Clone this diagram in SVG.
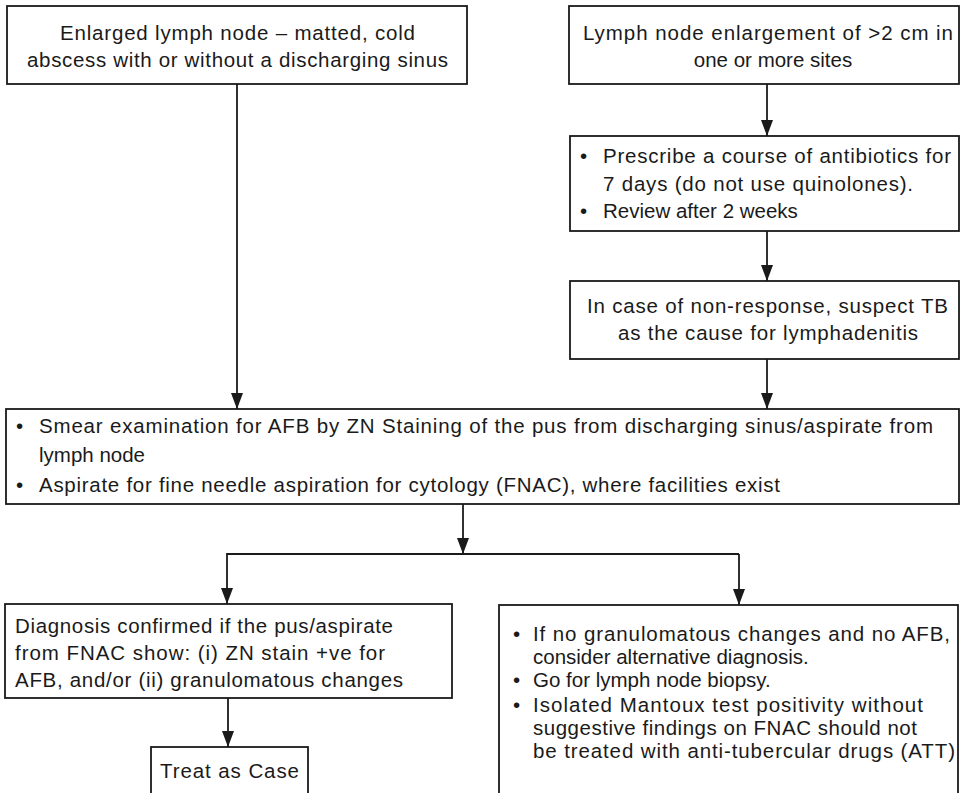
<svg xmlns="http://www.w3.org/2000/svg" width="961" height="793" viewBox="0 0 961 793">
<defs>
<marker id="arr" viewBox="0 0 16 12" refX="16" refY="6" markerWidth="16" markerHeight="12" markerUnits="userSpaceOnUse" orient="auto">
<path d="M0,0 L16,6 L0,12 Z" fill="#1a1a1a"/>
</marker>
</defs>
<style>
.box{fill:#fff;stroke:#1a1a1a;stroke-width:1.8}
.t{font-family:"Liberation Sans",Arial,sans-serif;font-size:20.5px;fill:#1a1a1a}
.c{text-anchor:middle}
.ln{fill:none;stroke:#1a1a1a;stroke-width:1.8}
</style>
<rect width="961" height="793" fill="#fff"/>
<g id="n1">
<rect class="box" x="7" y="6" width="460" height="78"/>
<text class="t" x="60" y="40" textLength="355" lengthAdjust="spacing">Enlarged lymph node – matted, cold</text>
<text class="t" x="27" y="67" textLength="421" lengthAdjust="spacing">abscess with or without a discharging sinus</text>
</g>
<g id="n2">
<rect class="box" x="569" y="6" width="390" height="78"/>
<text class="t" x="583" y="40" textLength="370" lengthAdjust="spacing">Lymph node enlargement of &gt;2 cm in</text>
<text class="t c" x="773" y="67">one or more sites</text>
</g>
<g id="n3">
<rect class="box" x="570" y="136" width="389" height="95"/>
<text class="t" x="580" y="163">•</text>
<text class="t" x="603" y="163" textLength="348" lengthAdjust="spacing">Prescribe a course of antibiotics for</text>
<text class="t" x="603" y="191" textLength="310" lengthAdjust="spacing">7 days (do not use quinolones).</text>
<text class="t" x="580" y="218">•</text>
<text class="t" x="603" y="218">Review after 2 weeks</text>
</g>
<g id="n4">
<rect class="box" x="570" y="281" width="389" height="78"/>
<text class="t" x="587" y="313" textLength="361" lengthAdjust="spacing">In case of non-response, suspect TB</text>
<text class="t" x="618" y="340" textLength="300" lengthAdjust="spacing">as the cause for lymphadenitis</text>
</g>
<g id="n5">
<rect class="box" x="6" y="409" width="953" height="95"/>
<text class="t" x="16" y="433">•</text>
<text class="t" x="39" y="433" textLength="894" lengthAdjust="spacing">Smear examination for AFB by ZN Staining of the pus from discharging sinus/aspirate from</text>
<text class="t" x="39" y="462">lymph node</text>
<text class="t" x="16" y="492">•</text>
<text class="t" x="39" y="492" textLength="741" lengthAdjust="spacing">Aspirate for fine needle aspiration for cytology (FNAC), where facilities exist</text>
</g>
<g id="n6">
<rect class="box" x="5" y="604" width="447" height="94"/>
<text class="t" x="15" y="633" textLength="378" lengthAdjust="spacing">Diagnosis confirmed if the pus/aspirate</text>
<text class="t" x="15" y="660" textLength="370" lengthAdjust="spacing">from FNAC show: (i) ZN stain +ve for</text>
<text class="t" x="15" y="687" textLength="388" lengthAdjust="spacing">AFB, and/or (ii) granulomatous changes</text>
</g>
<g id="n7">
<rect class="box" x="151" y="747" width="157" height="60"/>
<text class="t" x="160" y="778" textLength="139" lengthAdjust="spacing">Treat as Case</text>
</g>
<g id="n8">
<rect class="box" x="499" y="605" width="459" height="200"/>
<text class="t" x="513" y="641">•</text>
<text class="t" x="533" y="641" textLength="417" lengthAdjust="spacing">If no granulomatous changes and no AFB,</text>
<text class="t" x="533" y="664">consider alternative diagnosis.</text>
<text class="t" x="513" y="687">•</text>
<text class="t" x="533" y="687">Go for lymph node biopsy.</text>
<text class="t" x="513" y="712">•</text>
<text class="t" x="533" y="712" textLength="390" lengthAdjust="spacing">Isolated Mantoux test positivity without</text>
<text class="t" x="533" y="735" textLength="384" lengthAdjust="spacing">suggestive findings on FNAC should not</text>
<text class="t" x="533" y="758" textLength="422" lengthAdjust="spacing">be treated with anti-tubercular drugs (ATT)</text>
</g>
<g id="connectors">
<path class="ln" d="M237,84 V409" marker-end="url(#arr)"/>
<path class="ln" d="M767,84 V136" marker-end="url(#arr)"/>
<path class="ln" d="M767,231 V281" marker-end="url(#arr)"/>
<path class="ln" d="M767,359 V409" marker-end="url(#arr)"/>
<path class="ln" d="M463,504 V554" marker-end="url(#arr)"/>
<path class="ln" d="M739,554 H227 V604" marker-end="url(#arr)"/>
<path class="ln" d="M739,554 V605" marker-end="url(#arr)"/>
<path class="ln" d="M228,698 V747" marker-end="url(#arr)"/>
</g>
</svg>
